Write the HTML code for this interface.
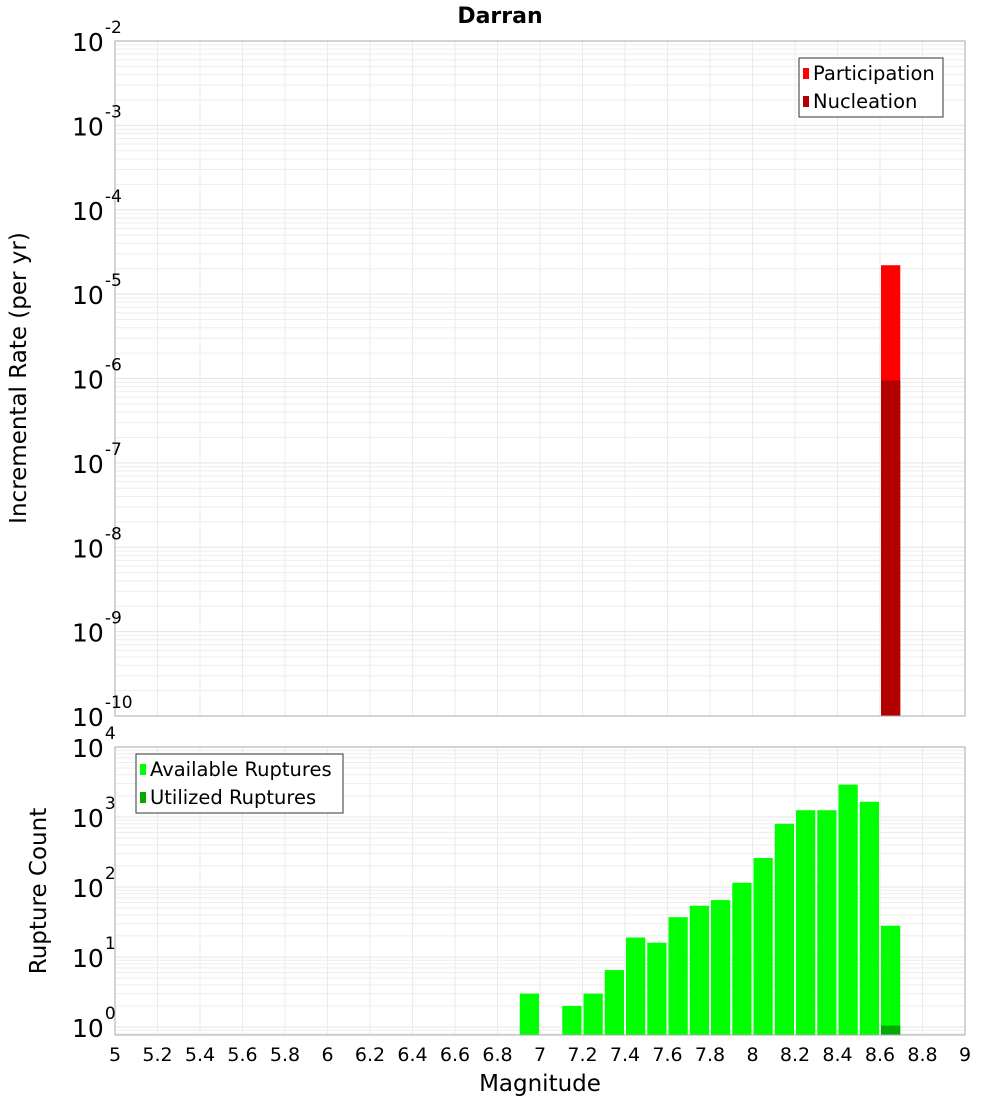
<!DOCTYPE html>
<html><head><meta charset="utf-8"><style>
body{margin:0;background:#fff;font-family:"Liberation Sans","DejaVu Sans",sans-serif}
svg text{font-family:"DejaVu Sans","Liberation Sans",sans-serif}
</style></head><body>
<svg id="c" width="1000" height="1100" xmlns="http://www.w3.org/2000/svg"></svg>
<script>
const rateCenters=[8.65];
const participation=[2.2e-5];
const nucleation=[9.5e-7];
const countCenters=[6.95,7.15,7.25,7.35,7.45,7.55,7.65,7.75,7.85,7.95,8.05,8.15,8.25,8.35,8.45,8.55,8.65];
const available=[3,2,3,6.5,19,16,37,54,65,115,260,800,1250,1250,2900,1650,28];
const utilizedCenters=[8.65];
const utilized=[1.05];
const xTicks=["5","5.2","5.4","5.6","5.8","6","6.2","6.4","6.6","6.8","7","7.2","7.4","7.6","7.8","8","8.2","8.4","8.6","8.8","9"];
const topExps=[-2,-3,-4,-5,-6,-7,-8,-9,-10];
const botExps=[4,3,2,1,0];

const svg=document.getElementById('c');const NS='http://www.w3.org/2000/svg';
function el(t,a,p){const e=document.createElementNS(NS,t);for(const k in a)e.setAttribute(k,a[k]);(p||svg).appendChild(e);return e;}
const X0=115,X1=965;
const x=v=>X0+(v-5)/(4)*(X1-X0);
const T0=41,T1=716;const yT=v=>T0+(-2-Math.log10(v))/8*(T1-T0);
const B0=747,B1=1035;const yB=v=>B0+(4-Math.log10(v))*70;
const BW=0.1;
const bw=(X1-X0)*BW/4;

function grid(top,bot,yf,lo,hi,name){
  const g=el('g',{});
  for(let e=lo;e<hi;e++)for(let m=1;m<10;m++){const v=m*Math.pow(10,e);const yy=yf(v);if(yy<top||yy>bot)continue;
    el('line',{x1:X0,x2:X1,y1:yy,y2:yy,stroke:m==1?'#e4e4e4':'#eeeeee','stroke-width':1},g);}
  for(let i=1;i<xTicks.length-1;i++){const xx=x(+xTicks[i]);el('line',{x1:xx,x2:xx,y1:top,y2:bot,stroke:'#ebebeb'},g);}
}
grid(T0,T1,yT,-11,-1,'top-grid');
grid(B0,B1,yB,-1,5,'bottom-grid');

rateCenters.forEach((c,i)=>{
  const b=el('rect',{x:x(c-BW/2)+1,y:yT(participation[i]),width:bw-2,height:T1-yT(participation[i]),fill:'#ff0000'});
  
  const n=el('rect',{x:x(c-BW/2)+1,y:yT(nucleation[i]),width:bw-2,height:T1-yT(nucleation[i]),fill:'#b30000'});
  
});
countCenters.forEach((c,i)=>{
  const b=el('rect',{x:x(c-BW/2)+1,y:yB(available[i]),width:bw-2,height:B1-yB(available[i]),fill:'#00ff00'});
  
});
utilizedCenters.forEach((c,i)=>{const b=el('rect',{x:x(c-BW/2)+1,y:yB(utilized[i]),width:bw-2,height:B1-yB(utilized[i]),fill:'#00aa00'});
  });

const f1=el('rect',{x:X0,y:T0,width:X1-X0,height:T1-T0,fill:'none',stroke:'#aaa'});
const f2=el('rect',{x:X0,y:B0,width:X1-X0,height:B1-B0,fill:'none',stroke:'#aaa'});

function ylab(e,yy,name){const t=el('text',{x:72,y:yy+10,'font-size':25,fill:'#000'});
  t.textContent='10';const s=el('tspan',{dx:1,dy:-18,'font-size':17},t);s.textContent=String(e);}
topExps.forEach(e=>ylab(e,yT(Math.pow(10,e)),'top-y-tick-label'));
botExps.forEach(e=>ylab(e,yB(Math.pow(10,e)),'bottom-y-tick-label'));
xTicks.forEach(v=>{const t=el('text',{x:x(+v),y:1061,'font-size':19,'text-anchor':'middle'});t.textContent=v;});

function txt(s,a,name){const t=el('text',a);t.textContent=s;return t;}
txt('Darran',{x:500,y:23,'font-size':22,'font-weight':'bold','text-anchor':'middle'},'chart-title');
txt('Magnitude',{x:540,y:1091,'font-size':23,'text-anchor':'middle'},'x-axis-title');
txt('Incremental Rate (per yr)',{x:0,y:0,'font-size':23,'text-anchor':'middle',transform:'translate(26,378) rotate(-90)'},'top-y-axis-title');
txt('Rupture Count',{x:0,y:0,'font-size':23,'text-anchor':'middle',transform:'translate(46,891) rotate(-90)'},'bottom-y-axis-title');

function legend(bx,by,w,items,name){const g=el('g',{});
  el('rect',{x:bx,y:by,width:w,height:59,fill:'#fff',stroke:'#333'},g);
  items.forEach((it,i)=>{el('rect',{x:bx+4,y:by+10+i*28,width:6,height:11,fill:it[1]},g);
    const t=el('text',{x:bx+14,y:by+22+i*28,'font-size':19.5},g);t.textContent=it[0];});}
legend(799,58,144,[['Participation','#ff0000'],['Nucleation','#b30000']],'top-legend');
legend(136,754,207,[['Available Ruptures','#00ff00'],['Utilized Ruptures','#00aa00']],'bottom-legend');
</script>
</body></html>
